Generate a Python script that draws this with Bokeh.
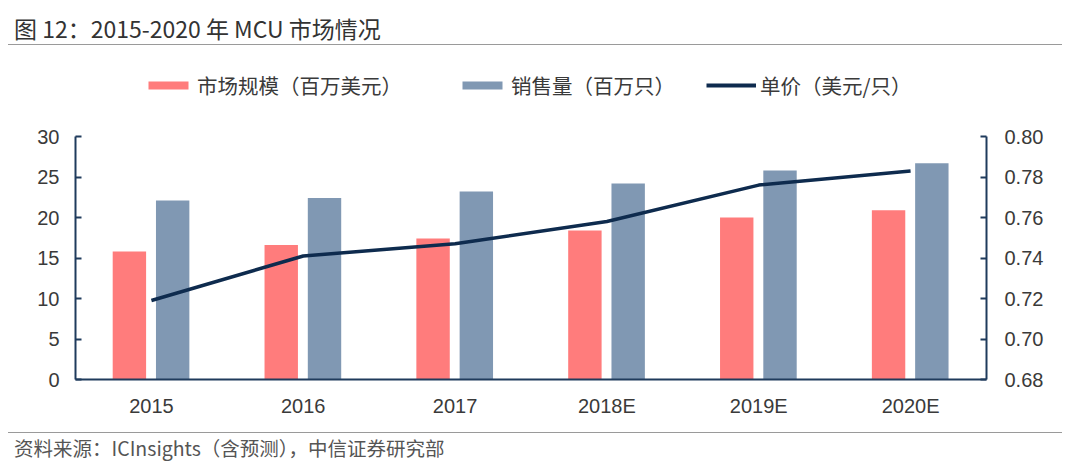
from bokeh.plotting import figure
from bokeh.models import (Range1d, LinearAxis, FixedTicker, NumeralTickFormatter,
                          Legend, LegendItem, ColumnDataSource, Div)
from bokeh.layouts import column
from bokeh.transform import dodge
from bokeh.embed import file_html
from bokeh.resources import INLINE

categories = ["2015", "2016", "2017", "2018E", "2019E", "2020E"]
market_size = [15.8, 16.6, 17.4, 18.4, 20.0, 20.9]      # 市场规模（百万美元）
shipments = [22.1, 22.4, 23.2, 24.2, 25.8, 26.7]        # 销售量（百万只）
unit_price = [0.719, 0.741, 0.747, 0.758, 0.776, 0.783]  # 单价（美元/只）
left_ticks = [0, 5, 10, 15, 20, 25, 30]
right_ticks = [0.68, 0.70, 0.72, 0.74, 0.76, 0.78, 0.80]

title_text = "图 12：2015-2020 年 MCU 市场情况"
source_text = "资料来源：ICInsights（含预测），中信证券研究部"
legend_labels = ["市场规模（百万美元）", "销售量（百万只）", "单价（美元/只）"]

RED = "#FF7C7C"
BLUE = "#8098B3"
NAVY = "#0E2B4E"
AXIS = "#1F3B5C"
TXT = "#3A3A3A"
NUMFONT = "Liberation Sans"
CJK = "Noto Sans CJK SC"
BL, BR = 75, 78

src = ColumnDataSource(dict(cat=categories, size=market_size, ship=shipments, price=unit_price))

# ---------------- main chart ----------------
p = figure(width=1064, height=306, x_range=categories, y_range=Range1d(0, 30),
           output_backend="svg", toolbar_location=None,
           min_border_left=BL, min_border_right=BR, min_border_top=10, min_border_bottom=53)
p.extra_y_ranges = {"price": Range1d(0.68, 0.80)}

p.vbar(x=dodge("cat", -0.145, range=p.x_range), top="size", width=0.22, source=src,
       fill_color=RED, line_color=None)
p.vbar(x=dodge("cat", 0.14, range=p.x_range), top="ship", width=0.22, source=src,
       fill_color=BLUE, line_color=None)
p.line(x="cat", y="price", source=src, y_range_name="price", line_color=NAVY,
       line_width=3.5, line_join="round")

p.xgrid.visible = False
p.ygrid.visible = False
p.outline_line_color = None
p.background_fill_color = "white"
p.border_fill_color = "white"

ya = p.yaxis[0]
ya.ticker = FixedTicker(ticks=left_ticks)
ya.axis_line_color = AXIS
ya.axis_line_width = 2
ya.major_tick_line_color = AXIS
ya.major_tick_line_width = 2
ya.major_tick_in = 6
ya.major_tick_out = 0
ya.minor_tick_line_color = None
ya.major_label_text_font = NUMFONT
ya.major_label_text_font_size = "20px"
ya.major_label_text_color = TXT
ya.major_label_standoff = 16

ra = LinearAxis(y_range_name="price", ticker=FixedTicker(ticks=right_ticks),
                formatter=NumeralTickFormatter(format="0.00"))
ra.axis_line_color = AXIS
ra.axis_line_width = 2
ra.major_tick_line_color = AXIS
ra.major_tick_line_width = 2
ra.major_tick_in = 6
ra.major_tick_out = 0
ra.minor_tick_line_color = None
ra.major_label_text_font = NUMFONT
ra.major_label_text_font_size = "20px"
ra.major_label_text_color = TXT
ra.major_label_standoff = 18
p.add_layout(ra, "right")

xa = p.xaxis[0]
xa.axis_line_color = AXIS
xa.axis_line_width = 2
xa.major_tick_line_color = None
xa.minor_tick_line_color = None
xa.major_label_text_font = NUMFONT
xa.major_label_text_font_size = "20px"
xa.major_label_text_color = TXT
xa.major_label_standoff = 9

# ---------------- legend strip ----------------
lp = figure(width=1064, height=81, x_range=Range1d(0, 1), y_range=Range1d(0, 1),
            output_backend="svg", toolbar_location=None,
            min_border_left=BL, min_border_right=BR, min_border_top=0, min_border_bottom=0)
lp.axis.visible = False
lp.grid.visible = False
lp.outline_line_color = None
# key renderers placed completely outside the visible range: only their legend swatches show
keysrc = ColumnDataSource(dict(x=[-6, -5], y=[-6, -5], b=[-7, -7]))
k1 = lp.vbar(x="x", top="y", bottom="b", width=0.1, source=keysrc, fill_color=RED, line_color=None)
k2 = lp.vbar(x="x", top="y", bottom="b", width=0.1, source=keysrc, fill_color=BLUE, line_color=None)
k3 = lp.line(x="x", y="y", source=keysrc, line_color=NAVY, line_width=4)

legend_x = [143 - BL, 457 - BL, 706 - BL]
for lx, lab, rend in zip(legend_x, legend_labels, [k1, k2, k3]):
    lg = Legend(items=[LegendItem(label=lab, renderers=[rend])], location=(lx, 26),
                orientation="horizontal", border_line_color=None, background_fill_alpha=0,
                padding=0, margin=0, glyph_width=50, glyph_height=10, label_standoff=4,
                label_text_font=CJK, label_text_font_size="20.5px", label_text_color=TXT,
                label_height=20)
    lp.add_layout(lg)

# ---------------- title & source ----------------
title_html = (
    '<div style="position:relative;width:1054px;height:45px;margin-left:8px;'
    'border-bottom:1.5px solid #9a9a9a;box-sizing:border-box;">'
    f'<span style="position:absolute;left:6px;top:13px;white-space:nowrap;'
    f'font-family:\'{CJK}\';font-size:23px;line-height:30px;color:#333333;">{title_text}</span></div>'
)
footer_html = (
    '<div style="position:relative;width:1054px;height:30px;margin-left:8px;'
    'border-top:1.5px solid #9a9a9a;box-sizing:border-box;">'
    f'<span style="position:absolute;left:6px;top:2px;white-space:nowrap;'
    f'font-family:\'{CJK}\';font-size:19.5px;line-height:26px;color:#555555;">{source_text}</span></div>'
)
title_div = Div(text=title_html, width=1064, height=45, margin=0)
footer_div = Div(text=footer_html, width=1064, height=30, margin=0)

layout = column(title_div, lp, p, footer_div, spacing=0)

open("out.html", "w").write(file_html(layout, INLINE))
